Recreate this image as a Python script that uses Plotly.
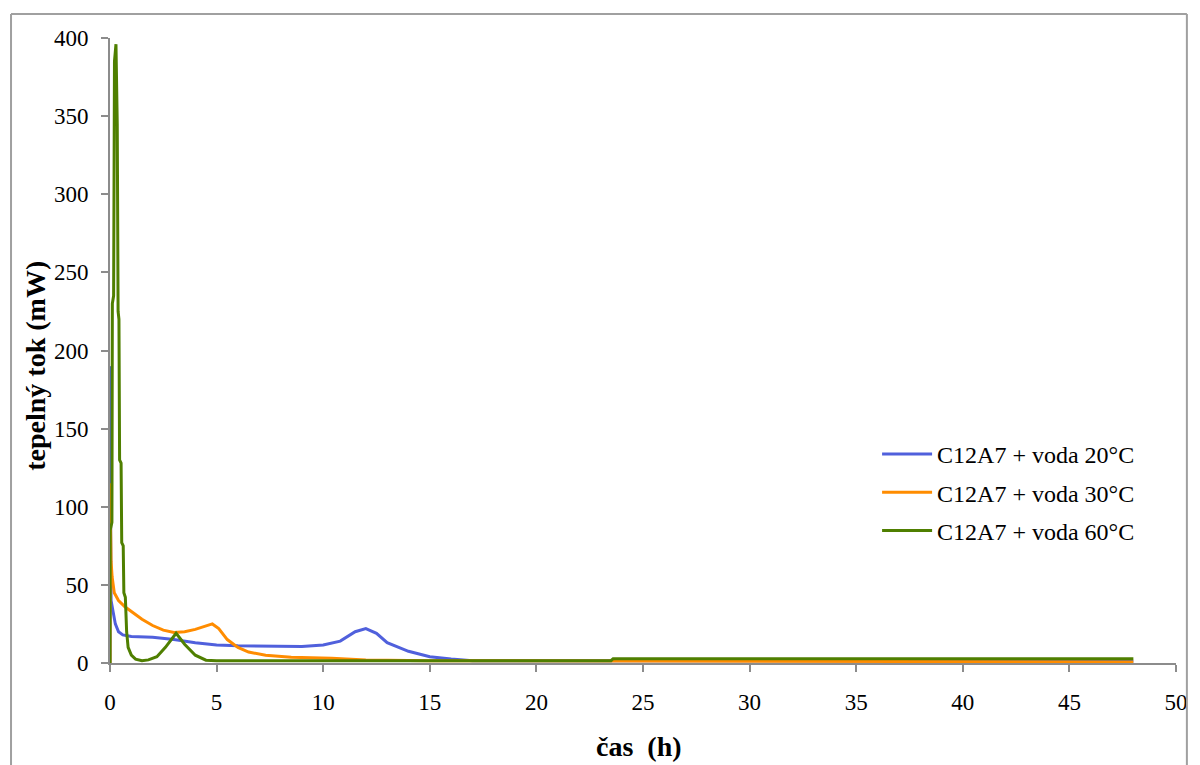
import plotly.graph_objects as go

# Heat flow of C12A7 hydrated at three temperatures (time in h, flow in mW)
t_20 = [0, 0.0, 0.02, 0.05, 0.15, 0.25, 0.4, 0.6, 1.0, 2.0, 3.0, 4.0, 5.0, 6.0, 9.0,
        10.0, 10.8, 11.5, 12.0, 12.5, 13.0, 14.0, 15.0, 16.0, 17.0, 48.0]
q_20 = [0, 190, 110, 40, 33, 25, 20, 18, 17, 16.5, 15, 13, 11.5, 11, 10.5,
        11.5, 14, 20, 22, 19, 13, 7.5, 4, 2.5, 1.5, 1.2]

t_30 = [0, 0.0, 0.05, 0.1, 0.2, 0.4, 0.7, 1.0, 1.5, 2.0, 2.5, 3.0, 3.5, 4.0, 4.5,
        4.8, 5.1, 5.5, 6.0, 6.5, 7.3, 8.5, 10.4, 12.0, 15.0, 48.0]
q_30 = [0, 115, 65, 55, 45, 40, 36, 33, 28, 24, 21, 19.5, 20, 21.5, 24,
        25, 22, 15, 10, 7, 5, 3.7, 3, 2, 1.5, 0.7]

t_60 = [0, 0.01, 0.09, 0.11, 0.17, 0.21, 0.28, 0.34, 0.38, 0.42, 0.45, 0.52, 0.55, 0.62,
        0.65, 0.72, 0.78, 0.85, 1.0, 1.2, 1.5, 1.8, 2.2, 2.6, 3.1, 3.5, 4.0, 4.5,
        5.0, 23.5, 23.6, 48.0]
q_60 = [0, 85, 90, 230, 235, 385, 396, 345, 225, 220, 130, 128, 77, 75,
        45, 42, 20, 10, 5, 2.5, 1.5, 2, 4, 10, 19, 12, 5, 1.8,
        1.5, 1.5, 2.8, 2.8]

series = [
    ("C12A7 + voda 20°C", t_20, q_20, "#5060DC"),
    ("C12A7 + voda 30°C", t_30, q_30, "#FF8C00"),
    ("C12A7 + voda 60°C", t_60, q_60, "#4F7F00"),
]

x_ticks = list(range(0, 51, 5))
y_ticks = list(range(0, 401, 50))

FONT = "Liberation Serif"

fig = go.Figure()
for name, t, q, color in series:
    fig.add_trace(go.Scatter(x=t, y=q, mode="lines", name=name, legendgroup=name,
                             line=dict(color=color, width=3)))

W, H = 1200, 765
L, R, T, B = 110, 13, 38, 102
pw, ph = W - L - R, H - T - B


def px_x(p):
    return (p - L) / pw


def px_y(p):
    return (H - B - p) / ph


axis_common = dict(showgrid=False, zeroline=False, showline=True, linecolor="#8C8C8C",
                   linewidth=2, ticks="outside", ticklen=7, tickwidth=2,
                   tickcolor="#8C8C8C", tickfont=dict(family=FONT, size=23, color="black"))

fig.update_layout(
    width=W, height=H,
    margin=dict(l=L, r=R, t=T, b=B),
    paper_bgcolor="white", plot_bgcolor="white",
    font=dict(family=FONT, color="black"),
    xaxis=dict(range=[0, 50], tickvals=x_ticks, ticklabelstandoff=10, **axis_common),
    yaxis=dict(range=[0, 400], tickvals=y_ticks, ticklabelstandoff=8, **axis_common),
    legend=dict(x=px_x(885), y=px_y(432), xanchor="left", yanchor="top",
                font=dict(family=FONT, size=24, color="black"),
                bgcolor="rgba(0,0,0,0)", tracegroupgap=4, itemwidth=50),
    showlegend=True,
)

# Axis titles
fig.add_annotation(text="<b>čas\u00a0 (h)</b>", xref="paper", yref="paper",
                   x=px_x(644), y=px_y(746), xanchor="center", yanchor="middle",
                   showarrow=False, font=dict(family=FONT, size=28, color="black"))
fig.add_annotation(text="<b>tepelný tok (mW)</b>", xref="paper", yref="paper",
                   x=px_x(35), y=px_y(366), xanchor="center", yanchor="middle",
                   showarrow=False, textangle=-90,
                   font=dict(family=FONT, size=28, color="black"))

# Outer frame around the chart area
for x0, y0, x1, y1 in [(10, 14, 1198, 14), (10, 14, 10, 770), (1198, 14, 1198, 770)]:
    fig.add_shape(type="line", xref="paper", yref="paper",
                  x0=px_x(x0), y0=px_y(y0), x1=px_x(x1), y1=px_y(y1),
                  line=dict(color="#A0A0A0", width=2))

fig.write_html("out.html")
